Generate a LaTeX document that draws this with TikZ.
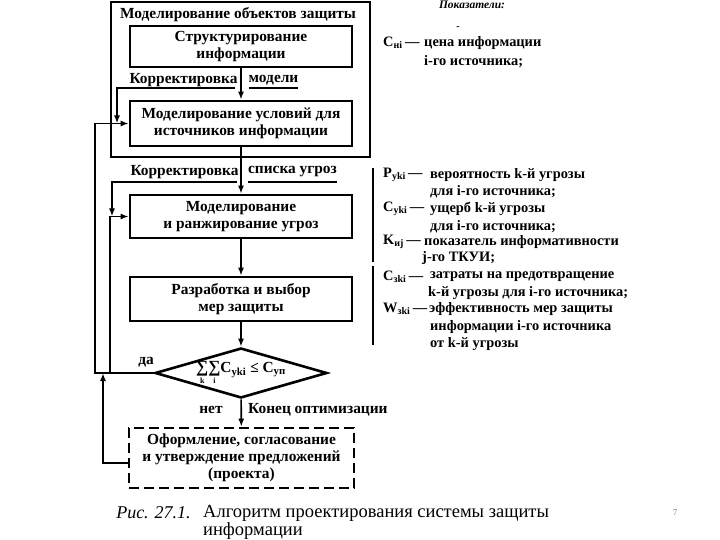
\documentclass[tikz,border=0pt]{standalone}
\usepackage{fontspec}
\setmainfont{Liberation Serif}
\usetikzlibrary{arrows.meta,shapes.geometric}
\newcommand{\bigsum}[1]{\mathop{\hbox{\fontsize{17}{17}\selectfont ∑}}\limits_{\hbox{\fontsize{8}{8}\selectfont\bfseries #1}}}
\begin{document}
\begin{tikzpicture}[x=1pt,y=-1pt,
  every node/.style={font=\fontsize{15.4}{17}\selectfont\bfseries},
  box/.style={draw,line width=2.6pt,minimum width=222pt,inner sep=0pt,align=center},
  dbox/.style={draw,line width=2.6pt,dash pattern=on 10pt off 5pt,minimum width=225pt,minimum height=60pt,align=center,inner sep=0pt},
  obox/.style={draw,line width=2pt,minimum width=259pt,minimum height=155pt,inner sep=0pt},
  dia/.style={draw,diamond,line width=2.6pt,minimum width=172pt,minimum height=50pt,aspect=3.44,inner sep=0pt},
  arr/.style={line width=1.6pt,-{Latex[length=8pt,width=6pt]}},
  ln/.style={line width=1.6pt},
  lbl/.style={inner sep=0pt},
  rt/.style={inner sep=0pt,anchor=west,font=\fontsize{14.4}{16}\selectfont\bfseries},
  capt/.style={inner sep=0pt,font=\fontsize{18.5}{20}\selectfont},
]
\fill[white] (0,0) rectangle (720,540);
\useasboundingbox (0,0) rectangle (720,540);

% outer box
\node[obox] (outer) at (240.5,79.5) {};
\node[lbl] (otitle) at (238,15) {Моделирование объектов защиты};

% boxes
\node[box,minimum height=41pt] (b1) at (241,46.5) {Структурирование\\информации};
\node[box,minimum height=45pt] (b2) at (241,123.5) {Моделирование условий для\\источников информации};
\node[box,minimum height=43pt] (b3) at (241,216.5) {Моделирование\\и ранжирование угроз};
\node[box,minimum height=44pt] (b4) at (241,299) {Разработка и выбор\\мер защиты};
\node[dia] (dia) at (241,373) {$\bigsum{k}\!\bigsum{i}$C\textsubscript{уki} ≤ C\textsubscript{уп}};
\node[dbox] (fin) at (241.5,458) {Оформление, согласование\\и утверждение предложений\\(проекта)};

% main flow
\draw[arr] (b1) -- (b2);
\draw[arr] (b2) -- (b3);
\draw[arr] (b3) -- (b4);
\draw[arr] (b4) -- (dia);
\draw[arr] (dia) -- (fin);

% labels
\node[lbl] (kor1) at (183.5,80) {Корректировка};
\node[lbl] (mod) at (273.5,80) {модели};
\node[lbl] (kor2) at (184.5,172) {Корректировка};
\node[lbl] (spis) at (292.5,172) {списка угроз};
\node[lbl] (da) at (146,362) {да};
\node[lbl] (net) at (211,410) {нет};
\node[lbl,anchor=west] (konec) at (248,410) {Конец оптимизации};

% coordinates
\coordinate (L1) at (95,0);
\coordinate (L2) at (110,0);
\coordinate (k1) at (235,88);
\coordinate (k1d) at (117,0);
\coordinate (u1a) at (249,88);
\coordinate (u1b) at (298,88);
\coordinate (k2) at (237,182);
\coordinate (k2d) at (112,0);
\coordinate (u2a) at (248,182);
\coordinate (u2b) at (337,182);
\coordinate (r1) at (103,463);

% underlines
\draw[ln] (u1a) -- (u1b);
\draw[ln] (u2a) -- (u2b);

% feedback
\draw[arr] (k1) -| (k1d |- b2.west);
\draw[arr] (k2) -| (k2d |- b3.west);
\draw[arr] (dia.west) -| (L1 |- b2.west) -- (b2.west);
\draw[arr] (L2 |- dia.west) |- (b3.west);
\draw[arr] (fin.west |- r1) -| (r1 |- dia.west);

% right indicators
\node[inner sep=0pt,font=\fontsize{11.5}{13}\selectfont\bfseries\itshape] (pok) at (472,5) {Показатели:};
\node[inner sep=0pt,font=\fontsize{10}{12}\selectfont\bfseries] (dsh) at (458,28) {-};

\node[rt] (s0) at (383,43) {C\textsubscript{нi}\,—};
\node[rt] (t0a) at (424,43) {цена информации};
\node[rt] (t0b) at (424,62) {i-го источника;};

\coordinate (bar1a) at (373,168);
\coordinate (bar1b) at (373,262);
\coordinate (bar2a) at (373,266);
\coordinate (bar2b) at (373,345);
\draw[line width=2pt] (bar1a) -- (bar1b);
\draw[line width=2pt] (bar2a) -- (bar2b);

\node[rt] (s1) at (383,175) {P\textsubscript{уki}\,—};
\node[rt] (t1a) at (430,175) {вероятность k-й угрозы};
\node[rt] (t1b) at (430,192) {для i-го источника;};
\node[rt] (s2) at (383,209) {C\textsubscript{уki}\,—};
\node[rt] (t2a) at (430,209) {ущерб k-й угрозы};
\node[rt] (t2b) at (430,227) {для i-го источника;};
\node[rt] (s3) at (383,242) {K\textsubscript{иj}\,—};
\node[rt] (t3a) at (424,242) {показатель информативности};
\node[rt] (t3b) at (422,258) {j-го ТКУИ;};
\node[rt] (s4) at (383,277) {C\textsubscript{зki}\,—};
\node[rt] (t4a) at (430,277) {затраты на предотвращение};
\node[rt] (t4b) at (428,293) {k-й угрозы для i-го источника;};
\node[rt] (s5) at (383,309) {W\textsubscript{зki}\,—};
\node[rt] (t5a) at (429,309) {эффективность мер защиты};
\node[rt] (t5b) at (430,327) {информации i-го источника};
\node[rt] (t5c) at (430,344) {от k-й угрозы};

% caption
\node[capt,font=\fontsize{18}{20}\selectfont\itshape] (cap1) at (153.5,513) {Рис. 27.1.};
\node[capt,anchor=west] (cap2) at (203,513) {Алгоритм проектирования системы защиты};
\node[capt,anchor=west] (cap3) at (203,531) {информации};

\node[lbl,font=\fontsize{9}{11}\selectfont,text=gray] (pg) at (675,513) {7};
\end{tikzpicture}
\end{document}
